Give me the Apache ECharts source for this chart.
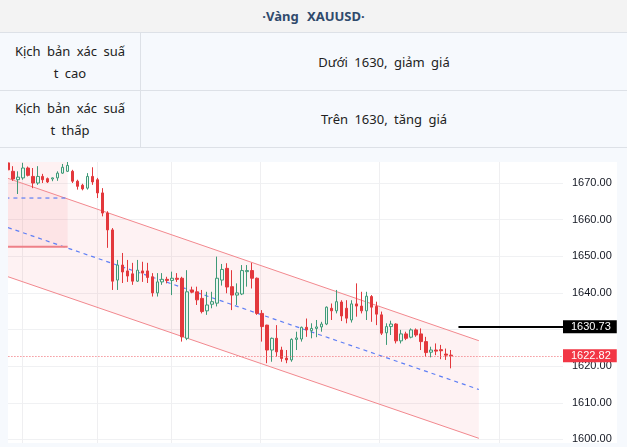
<!DOCTYPE html>
<html><head><meta charset="utf-8">
<script src="https://cdn.jsdelivr.net/npm/echarts@6/dist/echarts.min.js"></script>
<style>
html,body{margin:0;padding:0;}
body{width:627px;height:447px;overflow:hidden;position:relative;background:#f6f9fd;font-family:"Noto Sans","DejaVu Sans",sans-serif;}
.hdr{position:absolute;left:0;top:0;width:627px;height:32px;background:#f3f3f3;border-bottom:1px solid #dde1e7;text-align:center;line-height:32px;font-weight:bold;font-size:13px;color:#2f4a6c;word-spacing:5px}
.row{position:absolute;left:0;width:627px;border-bottom:1px solid #dde1e7}
.c1{position:absolute;left:0;top:0;width:140px;height:100%;border-right:1px solid #dde1e7;display:flex;align-items:center;justify-content:center;text-align:center;font-size:13px;line-height:22px;color:#222;word-spacing:3px}
.c2{position:absolute;left:141px;top:0;right:0;height:100%;display:flex;align-items:center;justify-content:center;font-size:13px;color:#222;word-spacing:3px}
#chart{position:absolute;left:8px;top:162px;width:609px;height:281px;background:#fff}
</style></head>
<body>
<div class="hdr">·Vàng XAUUSD·</div>
<div class="row" style="top:33px;height:57px"><div class="c1">Kịch bản xác suấ<br>t cao</div><div class="c2">Dưới 1630, giảm giá</div></div>
<div class="row" style="top:91px;height:56px"><div class="c1">Kịch bản xác suấ<br>t thấp</div><div class="c2">Trên 1630, tăng giá</div></div>
<div id="chart"></div>
<script>
// ---- data ----
const open  = [1675.5,1673.2,1670.9,1671.4,1674.1,1671.8,1670.0,1671.8,1671.2,1671.1,1671.4,1672.7,1673.2,1673.2,1670.5,1669.4,1668.6,1671.8,1670.9,1667.3,
               1661.8,1657.2,1643.5,1647.6,1646.0,1645.2,1643.2,1646.0,1646.0,1644.4,1640.0,1643.0,1643.7,1643.4,1644.0,1644.0,1627.6,1640.8,1640.3,1638.5,
               1635.1,1636.9,1637.2,1643.5,1646.7,1641.7,1639.4,1639.7,1645.8,1646.1,1644.0,1634.4,1631.2,1624.4,1627.6,1624.4,1622.2,1621.7,1627.3,1627.4,
               1630.6,1629.7,1630.3,1630.7,1631.5,1635.8,1635.1,1637.5,1635.8,1632.6,1637.0,1636.4,1635.1,1639.0,1636.3,1634.0,1629.1,1630.8,1631.5,1626.9,
               1628.8,1627.9,1629.9,1628.8,1626.7,1623.8,1624.4,1624.5,1623.3,1623.0];
const high  = [1676.5,1674.6,1673.2,1675.5,1674.5,1674.1,1674.6,1672.5,1671.5,1671.5,1673.2,1675.2,1676.0,1673.6,1670.9,1669.8,1672.7,1674.3,1671.4,1668.6,
               1662.3,1657.7,1649.0,1650.9,1649.0,1648.2,1649.0,1648.5,1648.2,1645.4,1645.4,1645.4,1644.4,1645.8,1645.4,1644.4,1646.2,1641.7,1641.7,1640.8,
               1640.3,1640.3,1649.9,1647.9,1648.1,1646.2,1642.6,1647.6,1647.6,1648.2,1644.2,1635.3,1631.3,1627.8,1631.2,1625.3,1624.4,1627.6,1629.4,1630.8,
               1633.0,1631.7,1632.6,1632.1,1636.3,1637.1,1640.8,1638.0,1638.0,1638.0,1642.6,1640.3,1640.3,1639.4,1637.6,1634.9,1631.7,1632.4,1631.7,1629.9,
               1629.4,1630.3,1630.3,1630.3,1628.0,1625.3,1626.2,1625.8,1624.8,1624.4];
const low   = [1673.3,1670.6,1667.0,1670.9,1671.8,1668.6,1669.5,1670.0,1670.0,1670.5,1670.6,1672.5,1673.0,1670.0,1668.2,1668.0,1668.2,1669.5,1665.9,1660.9,
               1652.3,1640.8,1640.8,1642.7,1643.0,1642.2,1643.0,1643.0,1642.7,1639.0,1639.0,1642.2,1642.6,1639.4,1643.0,1626.7,1627.1,1639.9,1636.7,1634.4,
               1634.0,1635.8,1636.3,1642.0,1639.9,1635.3,1636.7,1639.4,1641.7,1641.2,1634.0,1626.7,1620.8,1621.2,1622.6,1621.2,1620.8,1621.2,1624.4,1626.7,
               1628.0,1627.6,1627.9,1629.4,1631.2,1632.6,1634.4,1632.3,1631.7,1631.9,1633.5,1634.4,1632.6,1632.1,1631.2,1628.5,1625.8,1628.5,1626.2,1626.2,
               1627.1,1627.6,1628.0,1624.4,1622.6,1622.4,1623.0,1621.9,1621.7,1619.4];
const close = [1673.6,1671.1,1671.6,1674.1,1672.1,1670.0,1671.8,1670.9,1670.3,1671.4,1672.7,1674.3,1674.8,1670.5,1669.1,1668.4,1671.8,1670.3,1667.3,1661.8,
               1657.2,1643.2,1647.6,1645.7,1644.6,1643.2,1646.2,1645.4,1644.2,1640.0,1643.0,1643.7,1643.4,1644.0,1643.7,1628.0,1640.3,1640.2,1638.1,1634.9,
               1636.7,1637.6,1644.0,1646.4,1641.6,1639.4,1640.0,1646.1,1646.1,1644.0,1634.4,1630.8,1624.4,1627.6,1623.9,1622.1,1621.7,1627.3,1627.7,1630.6,
               1629.9,1630.3,1630.7,1631.5,1636.1,1635.1,1637.6,1633.7,1633.1,1637.0,1636.4,1635.1,1639.1,1636.1,1634.2,1629.0,1630.8,1631.5,1626.9,1628.8,
               1627.6,1629.9,1628.5,1626.7,1623.7,1624.4,1624.1,1624.2,1623.0,1622.82];
const barSlots = 112;                       // bars visible on the time axis incl. empty future space
const categories = Array.from({length: barSlots}, (_, i) => String(i + 1));
const timeGrid = [2.97, 17.96, 32.76, 50.78, 74.6, 98.7];   // vertical time grid lines (bar index)
const yTicks = {min: 1590, max: 1680, step: 10};
// regression channel drawing (bar index, price)
const channelX     = [0, 94.6];
const channelUpper = [1671.28, 1626.94];
const channelLower = [1644.42, 1600.29];
const channelMid   = [1657.85, 1613.62];
// older box drawing
const boxX = [-0.5, 12];
const boxTop = 1679.2, boxBottom = 1652.6, boxMid = 1665.9;
// horizontal alert line
const alertStart = 90.5, alertLevel = 1630.73;
const lastPrice = close[close.length - 1];

const candleData = open.map((o, i) => [o, close[i], low[i], high[i]]);
const axisFont = '"Liberation Sans", Arial, sans-serif';
const lastX = barSlots - 0.5;

const chart = echarts.init(document.getElementById('chart'), null, {renderer: 'canvas'});
chart.setOption({
  animation: false,
  backgroundColor: '#ffffff',
  grid: {left: -2.59, right: 54, top: -15.6, bottom: -33, containLabel: false, outerBoundsMode: 'none'},
  xAxis: [
    {type: 'category', data: categories, boundaryGap: true, axisLine: {show: false}, axisTick: {show: false}, axisLabel: {show: false}, splitLine: {show: false}},
    {type: 'value', min: -0.5, max: lastX, show: false}
  ],
  yAxis: {
    type: 'value', position: 'right', min: yTicks.min, max: yTicks.max, interval: yTicks.step, scale: true,
    axisLine: {show: false}, axisTick: {show: false},
    axisLabel: {margin: 9, fontSize: 11, color: '#131722', fontFamily: axisFont, formatter: v => v.toFixed(2)},
    splitLine: {lineStyle: {color: '#f0f1f3', width: 1}}
  },
  series: [
    {
      type: 'custom', xAxisIndex: 1, yAxisIndex: 0, z: 1, silent: true,
      data: [[channelX[0], channelUpper[0], channelLower[0], channelX[1], channelUpper[1], channelLower[1]]],
      renderItem: (params, api) => ({
        type: 'polygon',
        shape: {points: [api.coord([api.value(0), api.value(1)]), api.coord([api.value(3), api.value(4)]),
                         api.coord([api.value(3), api.value(5)]), api.coord([api.value(0), api.value(2)])]},
        style: {fill: 'rgba(242,54,69,0.065)'}
      })
    },
    {
      type: 'custom', xAxisIndex: 1, yAxisIndex: 0, z: 1, silent: true,
      data: [[boxX[0], boxTop, boxX[1], boxBottom]],
      renderItem: (params, api) => {
        const a = api.coord([api.value(0), api.value(1)]);
        const b = api.coord([api.value(2), api.value(3)]);
        return {type: 'rect', shape: {x: a[0], y: a[1], width: b[0] - a[0], height: b[1] - a[1]}, style: {fill: 'rgba(242,54,69,0.07)'}};
      }
    },
    {
      type: 'line', xAxisIndex: 1, yAxisIndex: 0, z: 2, silent: true, symbol: 'none',
      data: [[channelX[0], channelUpper[0]], [channelX[1], channelUpper[1]]],
      lineStyle: {color: '#f2888e', width: 1},
      markLine: {silent: true, symbol: ['none', 'none'], label: {show: false}, z: 0,
        lineStyle: {color: '#efeff1', type: 'solid', width: 1},
        data: timeGrid.map(v => ({xAxis: v}))}
    },
    {
      type: 'line', xAxisIndex: 1, yAxisIndex: 0, z: 2, silent: true, symbol: 'none',
      data: [[channelX[0], channelLower[0]], [channelX[1], channelLower[1]]],
      lineStyle: {color: '#f2888e', width: 1},
      markLine: {silent: true, symbol: ['none', 'none'], z: 10,
        lineStyle: {color: '#000000', type: 'solid', width: 2},
        label: {show: true, position: 'end', distance: 0, formatter: () => alertLevel.toFixed(2),
          backgroundColor: '#000000', color: '#ffffff', padding: [1, 6, 1, 8], fontSize: 11, lineHeight: 11, fontFamily: axisFont},
        data: [[{coord: [alertStart, alertLevel]}, {coord: [lastX, alertLevel]}]]}
    },
    {
      type: 'line', xAxisIndex: 1, yAxisIndex: 0, z: 2, silent: true, symbol: 'none',
      data: [[channelX[0], channelMid[0]], [channelX[1], channelMid[1]]],
      lineStyle: {color: '#5f7ff5', width: 1.2, type: [4, 4]}
    },
    {
      type: 'line', xAxisIndex: 1, yAxisIndex: 0, z: 2, silent: true, symbol: 'none',
      data: [[boxX[0], boxMid], [boxX[1], boxMid]],
      lineStyle: {color: '#5f7ff5', width: 1.2, type: [4, 4]}
    },
    {
      type: 'line', xAxisIndex: 1, yAxisIndex: 0, z: 2, silent: true, symbol: 'none',
      data: [[boxX[0], boxBottom], [boxX[1], boxBottom]],
      lineStyle: {color: '#ee8088', width: 2}
    },
    {
      type: 'candlestick', xAxisIndex: 0, yAxisIndex: 0, z: 5, data: candleData, barWidth: 3,
      itemStyle: {color: '#eaf6f0', color0: '#e3383c', borderColor: '#3f9a78', borderColor0: '#e3383c', borderWidth: 1},
      markLine: {silent: true, symbol: ['none', 'none'], z: 10,
        lineStyle: {color: '#f0646c', type: [1, 2], width: 1},
        label: {show: true, position: 'end', distance: 0, formatter: () => lastPrice.toFixed(2),
          backgroundColor: '#f23645', color: '#ffffff', padding: [1, 6, 1, 8], fontSize: 11, lineHeight: 11, fontFamily: axisFont},
        data: [{yAxis: lastPrice}]}
    }
  ]
});
</script>
</body></html>
